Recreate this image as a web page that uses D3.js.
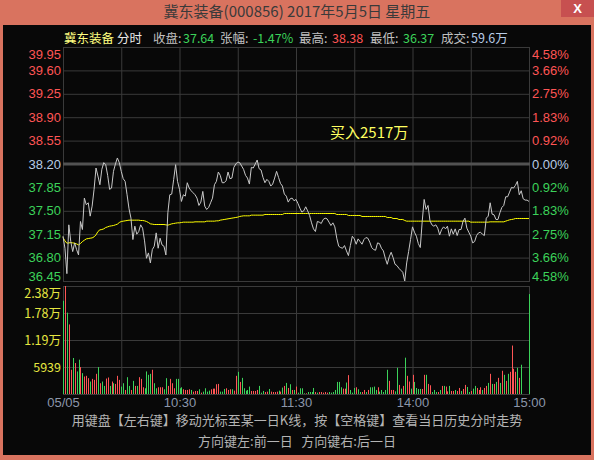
<!DOCTYPE html>
<html><head><meta charset="utf-8">
<script src="https://cdn.jsdelivr.net/npm/d3@7"></script>
<style>html,body{margin:0;padding:0;background:#d9735f;}svg{display:block;}</style>
</head><body>
<svg id="c" width="594" height="460"></svg>
<script>
// ---------- DATA ----------
const titleText = "冀东装备(000856) 2017年5月5日 星期五";
const headerParts = ["冀东装备","分时","收盘:","37.64","张幅:","-1.47%","最高:","38.38","最低:","36.37","成交:","59.6万"];
const headerKinds = ["name","mode","lab","down","lab","down","lab","up","lab","down","lab","vol"];
const prevClose = 38.20;
const priceTicks = [39.95,39.60,39.25,38.90,38.55,38.20,37.85,37.50,37.15,36.80,36.45];
const pctTicks = ["4.58%","3.66%","2.75%","1.83%","0.92%","0.00%","0.92%","1.83%","2.75%","3.66%","4.58%"];
const volTicks = [23756,17817,11878,5939];
const volTickLabels = ["2.38万","1.78万","1.19万","5939"];
const timeTickIdx = [0,60,120,180,240];
const timeTickLabels = ["05/05","10:30","11:30","14:00","15:00"];
const note = "买入2517万";
const helpLine1 = "用键盘【左右键】移动光标至某一日K线，按【空格键】查看当日历史分时走势";
const helpLine2 = "方向键左:前一日   方向键右:后一日";

const price = [
37.12,36.94,36.56,37.29,37.04,36.89,37.02,36.92,36.84,37.34,
37.22,37.69,37.59,37.62,37.42,37.57,37.82,38.14,38.02,37.89,
38.12,38.22,38.19,38.03,37.82,37.84,38.09,38.20,38.29,38.22,
38.09,37.98,37.94,37.74,37.53,37.39,37.07,37.27,37.15,37.19,
37.29,37.24,37.05,36.79,36.87,36.72,36.92,36.97,37.17,36.94,
37.09,36.99,36.97,36.84,37.47,37.74,37.75,37.97,38.19,37.94,
37.82,37.64,37.74,37.72,37.92,37.84,37.80,37.77,37.74,37.69,
37.58,37.63,37.79,37.57,37.52,37.55,37.62,37.69,37.89,37.94,
38.08,38.03,37.92,37.92,37.95,38.08,37.98,37.99,38.15,38.20,
38.23,38.22,38.17,38.12,38.03,37.99,37.90,38.15,38.14,38.20,
38.26,38.13,38.11,38.00,37.92,37.97,37.94,37.87,37.90,37.99,
38.09,38.00,37.91,37.87,37.75,37.72,37.63,37.68,37.69,37.65,
37.67,37.61,37.54,37.48,37.50,37.56,37.50,37.43,37.32,37.23,
37.19,37.34,37.33,37.31,37.37,37.39,37.38,37.33,37.28,37.32,
37.26,37.09,36.97,36.95,36.94,36.98,36.90,36.83,36.98,37.12,
37.08,37.00,37.08,37.04,37.00,37.07,37.10,37.09,37.03,36.95,
36.92,36.91,37.02,37.01,36.94,36.90,36.79,36.70,36.81,36.88,
36.80,36.70,36.68,36.64,36.61,36.58,36.45,36.72,36.89,37.07,
37.26,37.18,37.12,37.01,36.95,37.34,37.67,37.52,37.58,37.35,
37.29,37.27,37.29,37.24,37.14,37.22,37.26,37.23,37.27,37.12,
37.23,37.15,37.23,37.13,37.22,37.22,37.34,37.39,37.24,37.18,
37.12,37.02,37.04,37.13,37.17,37.18,37.15,37.13,37.39,37.42,
37.62,37.45,37.44,37.37,37.37,37.47,37.55,37.58,37.71,37.71,
37.78,37.85,37.84,37.88,37.94,37.74,37.80,37.68,37.66,37.66,
37.64];

const avgPrice = [
37.100,37.050,37.015,37.020,37.025,37.020,37.015,37.005,36.990,37.010,
37.040,37.060,37.080,37.085,37.090,37.095,37.110,37.140,37.190,37.215,
37.220,37.230,37.250,37.260,37.270,37.275,37.280,37.290,37.300,37.325,
37.340,37.345,37.350,37.355,37.360,37.360,37.360,37.360,37.360,37.360,
37.355,37.355,37.350,37.340,37.325,37.305,37.300,37.295,37.295,37.295,
37.295,37.295,37.295,37.290,37.285,37.295,37.305,37.310,37.315,37.320,
37.320,37.325,37.330,37.330,37.330,37.330,37.330,37.330,37.335,37.335,
37.335,37.335,37.335,37.335,37.345,37.345,37.345,37.345,37.345,37.350,
37.350,37.360,37.365,37.370,37.375,37.380,37.385,37.390,37.395,37.400,
37.405,37.415,37.420,37.425,37.425,37.425,37.425,37.435,37.435,37.435,
37.435,37.435,37.435,37.435,37.445,37.445,37.445,37.445,37.445,37.445,
37.445,37.445,37.445,37.445,37.460,37.460,37.460,37.460,37.460,37.460,
37.460,37.460,37.460,37.460,37.460,37.460,37.460,37.460,37.460,37.460,
37.460,37.460,37.460,37.460,37.460,37.460,37.460,37.460,37.460,37.460,
37.460,37.445,37.445,37.445,37.445,37.445,37.445,37.430,37.430,37.430,
37.430,37.430,37.430,37.430,37.415,37.415,37.415,37.415,37.415,37.415,
37.415,37.415,37.415,37.415,37.415,37.415,37.415,37.400,37.400,37.400,
37.385,37.385,37.385,37.370,37.370,37.370,37.355,37.345,37.345,37.345,
37.345,37.345,37.345,37.345,37.345,37.345,37.345,37.345,37.345,37.345,
37.345,37.345,37.345,37.345,37.345,37.345,37.345,37.345,37.345,37.345,
37.345,37.345,37.345,37.345,37.345,37.345,37.345,37.345,37.345,37.345,
37.330,37.330,37.330,37.330,37.330,37.330,37.330,37.330,37.330,37.330,
37.335,37.335,37.335,37.335,37.335,37.335,37.335,37.335,37.345,37.355,
37.365,37.370,37.375,37.385,37.385,37.385,37.385,37.385,37.385,37.385,
37.385];

const volume = [
20500,23756,17900,15300,5330,7920,6810,4960,7550,5920,
4590,3850,4000,3480,2740,3330,3110,4440,5920,2370,
2740,1780,3400,3630,1780,2740,2370,2220,4000,3110,
1630,2370,890,3700,1780,890,2890,1780,1780,3700,
3330,1480,1260,4960,4220,4440,5330,2370,1260,1480,
1480,1480,1040,3480,1780,3330,2370,1260,3330,3330,
1260,1480,1040,890,890,1040,890,520,670,670,
1040,300,520,1260,520,740,1040,1180,1180,2150,
2220,520,520,1110,1260,890,1040,1040,740,4000,
4880,2660,3550,1260,740,890,1630,670,670,670,
890,1780,300,670,440,520,1110,520,440,440,
520,740,520,1410,1780,2440,1330,2150,890,890,
1630,300,1260,1260,150,150,440,440,440,1330,
440,300,440,440,300,440,300,440,300,440,
890,2660,2660,1480,1180,1180,2520,4150,890,300,
1330,1480,1040,440,440,890,440,890,1480,1480,
1630,890,1480,520,890,440,890,5330,2890,890,
890,590,5770,2000,1180,1780,7990,4000,2740,1180,
4220,2660,1330,1110,1110,1110,4220,4220,2220,1920,
440,890,440,440,890,1780,1780,1630,590,1780,
670,670,890,670,1330,670,1110,2000,1550,440,
670,1180,1780,1330,890,1480,890,1330,1780,2440,
4440,2220,2220,2660,3550,2440,5110,4220,2890,4440,
4880,10660,5550,4880,5770,3550,6440,0,0,0,
21980];

// R = up tick, G = down tick
const volDir = (
"GRGRRGRGGR"+"GRRRGRRRGR"+"GGRRGRGRRR"+"GGRGGRGRGR"+"RRGGGGRGGR"+
"RRGGRRRRGG"+"GGRRRRGRRR"+"GRGGGGRRRR"+"RGGGRRRGRR"+"GRGGGGGRRR"+
"RGGGRRGRRR"+"RGRGRGRGRG"+"RGGGGRGGGG"+"RGRRRRRGGG"+"GGGGRRGRGG"+
"GRGGRRGRGG"+"GGRGGGGGRR"+"RGGRGRGRRG"+"RGGGGRRGRR"+"GGGRGRGRRG"+
"RRGRRGRRGG"+"RGGRRRGRRG"+"RGRGRGRGRG"+"RRRRGRGGGG"+"G").split("");

// ---------- LAYOUT ----------
const svg = d3.select("#c");
const L = 63, R = 529, PT = 47, PB = 281, VT = 286, VB = 394;
const RED = "#ff5555", GREEN = "#3cd25a", GRID = "#3a3a3a";
const numFont = "'Liberation Sans', Arial, sans-serif";
const cjkFont = "'Noto Sans CJK SC', 'Noto Sans', sans-serif";

// window chrome
svg.append("rect").attr("x",0).attr("y",0).attr("width",594).attr("height",460).attr("fill","#d9735f");
svg.append("rect").attr("x",561).attr("y",0).attr("width",33).attr("height",17).attr("fill","#c75050");
svg.append("text").attr("x",577.5).attr("y",13).attr("text-anchor","middle")
  .attr("font-family",numFont).attr("font-size",13).attr("font-weight","bold").attr("fill","#fff").text("X");
svg.append("text").attr("x",297).attr("y",17).attr("text-anchor","middle")
  .attr("font-family",cjkFont).attr("font-size",15).attr("fill","#3a3a3a").text(titleText);
svg.append("rect").attr("x",3).attr("y",25).attr("width",588).attr("height",430).attr("fill","#080808");

// scales
const x = d3.scaleLinear().domain([0,240]).range([L,R]);
const y = d3.scaleLinear().domain([36.45,39.95]).range([PB,PT]);
const yv = d3.scaleLinear().domain([0,23756]).range([VB,VT]);

// header
const headerX = [64,117,153,183,220,253,299,332,370,403,441,471];
const kindColor = {name:"#ffff80",mode:"#e8e8e8",lab:"#c0c0c0",down:GREEN,up:RED,vol:"#b8cce6"};
svg.append("g").selectAll("text").data(headerParts).join("text")
  .attr("x",(d,i)=>headerX[i]).attr("y",43)
  .attr("font-family",(d,i)=>/[\u4e00-\u9fff]/.test(d)&&!/\d/.test(d)?cjkFont:cjkFont)
  .attr("font-size",12.5)
  .attr("fill",(d,i)=>kindColor[headerKinds[i]]).text(d=>d);

// grids - price panel
const gGrid = svg.append("g");
gGrid.append("g").call(d3.axisLeft(y).tickValues(priceTicks.filter(v=>v!==prevClose)).tickSize(-(R-L)).tickFormat(""))
  .attr("transform",`translate(${L},0)`)
  .call(g=>g.select(".domain").remove())
  .call(g=>g.selectAll("line").attr("stroke",GRID));
gGrid.append("g").call(d3.axisBottom(x).tickValues(d3.range(30,240,30)).tickSize(-(PB-PT)).tickFormat(""))
  .attr("transform",`translate(0,${PB})`)
  .call(g=>g.select(".domain").remove())
  .call(g=>g.selectAll("line").attr("stroke",GRID));
// grids - volume panel
gGrid.append("g").call(d3.axisLeft(yv).tickValues(volTicks.slice(1)).tickSize(-(R-L)).tickFormat(""))
  .attr("transform",`translate(${L},0)`)
  .call(g=>g.select(".domain").remove())
  .call(g=>g.selectAll("line").attr("stroke",GRID));
gGrid.append("g").call(d3.axisBottom(x).tickValues(d3.range(30,240,30)).tickSize(-(VB-VT)).tickFormat(""))
  .attr("transform",`translate(0,${VB})`)
  .call(g=>g.select(".domain").remove())
  .call(g=>g.selectAll("line").attr("stroke",GRID));
// frames
svg.append("rect").attr("x",L+0.5).attr("y",PT+0.5).attr("width",R-L).attr("height",PB-PT)
  .attr("fill","none").attr("stroke",GRID);
svg.append("rect").attr("x",L+0.5).attr("y",VT+0.5).attr("width",R-L).attr("height",VB-VT)
  .attr("fill","none").attr("stroke",GRID);
// previous close line
svg.append("line").attr("x1",L).attr("x2",R+1).attr("y1",y(prevClose)).attr("y2",y(prevClose))
  .attr("stroke","#525252").attr("stroke-width",3);

// left price axis
const leftAx = svg.append("g").attr("transform",`translate(${L-2},0)`)
  .call(d3.axisLeft(y).tickValues(priceTicks).tickSize(0).tickPadding(0).tickFormat(d3.format(".2f")));
leftAx.select(".domain").remove();
leftAx.selectAll("text").attr("font-family",numFont).attr("font-size",13)
  .attr("fill",d=>d>prevClose+1e-6?RED:(Math.abs(d-prevClose)<1e-6?"#b8cce6":GREEN))
  .attr("dy",d=>d===priceTicks[0]?"0.9em":(d===priceTicks[priceTicks.length-1]?"-0.05em":"0.32em"));

// right pct axis
const rightAx = svg.append("g").attr("transform",`translate(${R+3},0)`)
  .call(d3.axisRight(y).tickValues(priceTicks).tickSize(0).tickPadding(0).tickFormat((d,i)=>pctTicks[i]));
rightAx.select(".domain").remove();
rightAx.selectAll("text").attr("font-family",numFont).attr("font-size",13)
  .attr("fill",d=>d>prevClose+1e-6?RED:(Math.abs(d-prevClose)<1e-6?"#b8cce6":GREEN))
  .attr("dy",d=>d===priceTicks[0]?"0.9em":(d===priceTicks[priceTicks.length-1]?"-0.05em":"0.32em"));

// volume axis
const volAx = svg.append("g").attr("transform",`translate(${L-2},0)`)
  .call(d3.axisLeft(yv).tickValues(volTicks).tickSize(0).tickPadding(0).tickFormat((d,i)=>volTickLabels[i]));
volAx.select(".domain").remove();
volAx.selectAll("text").attr("font-family",cjkFont).attr("font-size",12.5).attr("fill","#e6e640")
  .attr("dy",(d,i)=>i===0?"0.95em":"0.32em");

// time axis
const timeAx = svg.append("g").attr("transform",`translate(0,${VB+2})`)
  .call(d3.axisBottom(x).tickValues(timeTickIdx).tickSize(0).tickPadding(2).tickFormat((d,i)=>timeTickLabels[i]));
timeAx.select(".domain").remove();
timeAx.selectAll("text").attr("font-family",numFont).attr("font-size",13).attr("fill","#8c96aa");

// volume bars
svg.append("g").selectAll("line").data(volume).join("line")
  .attr("x1",(d,i)=>Math.round(x(i))+0.5).attr("x2",(d,i)=>Math.round(x(i))+0.5)
  .attr("y1",yv(0)).attr("y2",d=>yv(d))
  .attr("stroke",(d,i)=>volDir[i]==="R"?RED:GREEN).attr("stroke-width",1)
  .attr("display",d=>d>0?null:"none");

// price line & avg line
const line = d3.line().x((d,i)=>x(i)).y(d=>y(d));
svg.append("path").datum(avgPrice).attr("d",line).attr("fill","none").attr("stroke","#ffff00").attr("stroke-width",1);
svg.append("path").datum(price).attr("d",line).attr("fill","none").attr("stroke","#c8c8c8").attr("stroke-width",1);

// note
svg.append("text").attr("x",330).attr("y",138).attr("font-family",cjkFont).attr("font-size",15)
  .attr("fill","#ffff60").text(note);

// help text
svg.append("text").attr("x",297).attr("y",425).attr("text-anchor","middle").attr("font-family",cjkFont)
  .attr("font-size",13).attr("fill","#b4b4b4").text(helpLine1);
svg.append("text").attr("x",297).attr("y",446).attr("text-anchor","middle").attr("font-family",cjkFont)
  .attr("font-size",13).attr("fill","#b4b4b4").attr("xml:space","preserve").style("white-space","pre").text(helpLine2);
</script>
</body></html>
